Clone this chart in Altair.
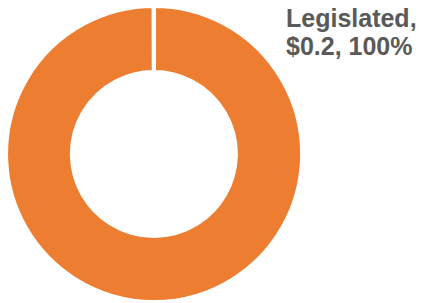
import altair as alt
import pandas as pd

categories = ["Legislated"]
values = [0.2]
percents = ["100%"]

df = pd.DataFrame({"category": categories, "value": values, "pct": percents})

base = alt.Chart(df)

arc = base.mark_arc(
    outerRadius=148, innerRadius=82, stroke="white", strokeWidth=4, color="#ED7D31"
).encode(
    theta=alt.Theta("value:Q", stack=True, scale=alt.Scale(range=[0, 6.28])),
    x=alt.value(146),
    y=alt.value(146),
)

label = base.transform_calculate(
    label="[datum.category + ',', '$' + format(datum.value, '.1f') + ', ' + datum.pct]"
).mark_text(
    align="left", baseline="alphabetic", font="Liberation Sans", fontWeight="bold",
    fontSize=25, lineHeight=28, color="#595959"
).encode(
    text="label:N",
    x=alt.value(278),
    y=alt.value(19),
)

chart = alt.layer(arc, label).properties(
    width=408, height=295, padding=0, autosize="none"
).configure_view(stroke=None)

chart.save("out.html", embed_options={"renderer": "svg", "actions": False})
